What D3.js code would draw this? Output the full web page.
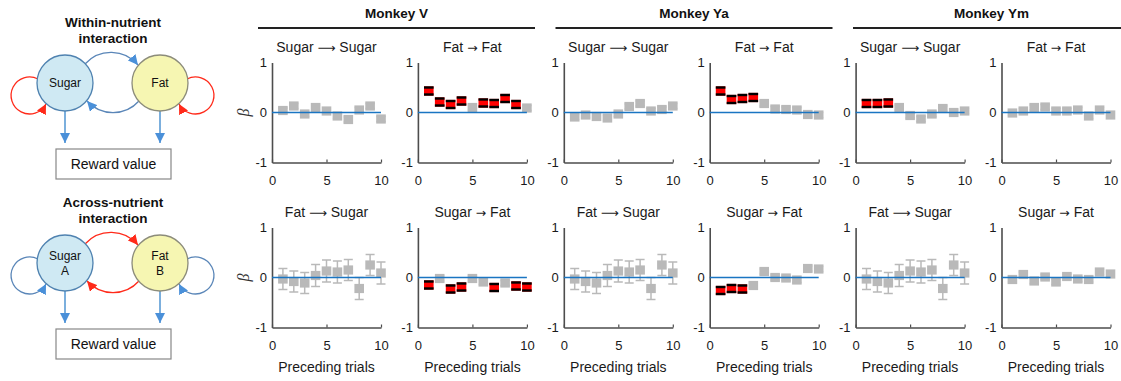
<!DOCTYPE html>
<html>
<head>
<meta charset="utf-8">
<script src="https://cdn.jsdelivr.net/npm/d3@7"></script>
<style>
  body { margin: 0; background: #fff; }
  svg { display: block; font-family: "Liberation Sans", Arial, sans-serif; }
</style>
</head>
<body>
<svg id="fig" width="1121" height="381"></svg>
<script>
// ---- data -------------------------------------------------------------
const monkeys = ["Monkey V", "Monkey Ya", "Monkey Ym"];
const lags = [1, 2, 3, 4, 5, 6, 7, 8, 9, 10];
const xTicks = [0, 5, 10];
const yTicks = [-1, 0, 1];
const topTitles = ["Sugar \u27F6 Sugar", "Fat \u2192 Fat"];
const bottomTitles = ["Fat \u27F6 Sugar", "Sugar \u2192 Fat"];
const xLabel = "Preceding trials";

// regression weights (beta) per lag, standard errors, significance (1 = p<0.05)
const betaV_SS  = [0.04, 0.13, -0.03, 0.10, 0.03, -0.07, -0.14, 0.05, 0.13, -0.13];
const errV_SS   = [0.05, 0.05, 0.05, 0.05, 0.05, 0.05, 0.05, 0.05, 0.05, 0.05];
const sigV_SS   = [0, 0, 0, 0, 0, 0, 0, 0, 0, 0];
const betaV_FF  = [0.43, 0.21, 0.16, 0.23, 0.10, 0.19, 0.18, 0.28, 0.16, 0.09];
const errV_FF   = [0.07, 0.07, 0.07, 0.07, 0.05, 0.07, 0.07, 0.07, 0.07, 0.05];
const sigV_FF   = [1, 1, 1, 1, 0, 1, 1, 1, 1, 0];
const betaV_FS  = [-0.03, -0.08, -0.11, 0.04, 0.13, 0.11, 0.15, -0.22, 0.25, 0.09];
const errV_FS   = [0.21, 0.21, 0.21, 0.22, 0.22, 0.22, 0.21, 0.22, 0.21, 0.22];
const sigV_FS   = [0, 0, 0, 0, 0, 0, 0, 0, 0, 0];
const betaV_SF  = [-0.15, -0.02, -0.23, -0.19, -0.02, -0.09, -0.20, -0.11, -0.17, -0.19];
const errV_SF   = [0.07, 0.05, 0.07, 0.07, 0.05, 0.05, 0.07, 0.05, 0.07, 0.07];
const sigV_SF   = [1, 0, 1, 1, 0, 0, 1, 0, 1, 1];

const betaYa_SS = [-0.09, -0.05, -0.08, -0.11, -0.03, 0.12, 0.18, 0.03, 0.06, 0.13];
const errYa_SS  = [0.05, 0.05, 0.05, 0.05, 0.05, 0.05, 0.05, 0.05, 0.05, 0.05];
const sigYa_SS  = [0, 0, 0, 0, 0, 0, 0, 0, 0, 0];
const betaYa_FF = [0.43, 0.26, 0.28, 0.30, 0.18, 0.07, 0.06, 0.05, -0.04, -0.05];
const errYa_FF  = [0.07, 0.07, 0.07, 0.07, 0.05, 0.05, 0.05, 0.05, 0.05, 0.05];
const sigYa_FF  = [1, 1, 1, 1, 0, 0, 0, 0, 0, 0];
const betaYa_FS = [-0.03, -0.08, -0.11, 0.04, 0.13, 0.11, 0.15, -0.22, 0.25, 0.09];
const errYa_FS  = [0.21, 0.21, 0.21, 0.22, 0.22, 0.22, 0.21, 0.22, 0.21, 0.22];
const sigYa_FS  = [0, 0, 0, 0, 0, 0, 0, 0, 0, 0];
const betaYa_SF = [-0.26, -0.22, -0.23, -0.16, 0.12, 0.00, -0.01, -0.05, 0.18, 0.17];
const errYa_SF  = [0.07, 0.07, 0.07, 0.05, 0.05, 0.05, 0.05, 0.05, 0.05, 0.05];
const sigYa_SF  = [1, 1, 1, 0, 0, 0, 0, 0, 0, 0];

const betaYm_SS = [0.18, 0.18, 0.19, 0.10, -0.06, -0.13, -0.03, 0.08, 0.00, 0.03];
const errYm_SS  = [0.07, 0.07, 0.07, 0.05, 0.05, 0.05, 0.05, 0.05, 0.05, 0.05];
const sigYm_SS  = [1, 1, 1, 0, 0, 0, 0, 0, 0, 0];
const betaYm_FF = [-0.01, 0.03, 0.10, 0.11, 0.03, 0.03, 0.05, -0.07, 0.05, -0.05];
const errYm_FF  = [0.05, 0.05, 0.05, 0.05, 0.05, 0.05, 0.05, 0.05, 0.05, 0.05];
const sigYm_FF  = [0, 0, 0, 0, 0, 0, 0, 0, 0, 0];
const betaYm_FS = [-0.03, -0.08, -0.11, 0.04, 0.13, 0.11, 0.15, -0.22, 0.25, 0.09];
const errYm_FS  = [0.21, 0.21, 0.21, 0.22, 0.22, 0.22, 0.21, 0.22, 0.21, 0.22];
const sigYm_FS  = [0, 0, 0, 0, 0, 0, 0, 0, 0, 0];
const betaYm_SF = [-0.04, 0.06, -0.07, 0.01, -0.09, 0.02, -0.03, -0.04, 0.11, 0.07];
const errYm_SF  = [0.05, 0.05, 0.05, 0.05, 0.05, 0.05, 0.05, 0.05, 0.05, 0.05];
const sigYm_SF  = [0, 0, 0, 0, 0, 0, 0, 0, 0, 0];

// ---- layout -----------------------------------------------------------
const svg = d3.select("#fig");
const plotW = 109, plotH = 100;
const colX = c => 272 + c * 145.9;
const rowY = [62.5, 227.5];

const panels = [
  { col: 0, row: 0, title: topTitles[0],    beta: betaV_SS,  err: errV_SS,  sig: sigV_SS },
  { col: 1, row: 0, title: topTitles[1],    beta: betaV_FF,  err: errV_FF,  sig: sigV_FF },
  { col: 2, row: 0, title: topTitles[0],    beta: betaYa_SS, err: errYa_SS, sig: sigYa_SS },
  { col: 3, row: 0, title: topTitles[1],    beta: betaYa_FF, err: errYa_FF, sig: sigYa_FF },
  { col: 4, row: 0, title: topTitles[0],    beta: betaYm_SS, err: errYm_SS, sig: sigYm_SS },
  { col: 5, row: 0, title: topTitles[1],    beta: betaYm_FF, err: errYm_FF, sig: sigYm_FF },
  { col: 0, row: 1, title: bottomTitles[0], beta: betaV_FS,  err: errV_FS,  sig: sigV_FS },
  { col: 1, row: 1, title: bottomTitles[1], beta: betaV_SF,  err: errV_SF,  sig: sigV_SF },
  { col: 2, row: 1, title: bottomTitles[0], beta: betaYa_FS, err: errYa_FS, sig: sigYa_FS },
  { col: 3, row: 1, title: bottomTitles[1], beta: betaYa_SF, err: errYa_SF, sig: sigYa_SF },
  { col: 4, row: 1, title: bottomTitles[0], beta: betaYm_FS, err: errYm_FS, sig: sigYm_FS },
  { col: 5, row: 1, title: bottomTitles[1], beta: betaYm_SF, err: errYm_SF, sig: sigYm_SF }
];

const x = d3.scaleLinear().domain([0, 10]).range([0, plotW]);
const y = d3.scaleLinear().domain([-1, 1]).range([plotH, 0]);

const axisColor = "#4d4d4d";
const grayMark = "#b9b9b9";
const zeroBlue = "#1a75c2";

// ---- monkey headers ---------------------------------------------------
monkeys.forEach((m, k) => {
  const x0 = 258 + k * 297.5, x1 = x0 + 277;
  svg.append("line").attr("x1", x0).attr("x2", x1).attr("y1", 28).attr("y2", 28)
    .attr("stroke", "#222").attr("stroke-width", 1.8);
  svg.append("text").attr("x", (x0 + x1) / 2).attr("y", 18)
    .attr("text-anchor", "middle").attr("font-size", 13.5).attr("font-weight", "bold")
    .attr("fill", "#111").text(m);
});

// panel title: words in Liberation Sans, arrow glyph in DejaVu Sans
function drawTitle(g, str) {
  const t = g.append("text").attr("x", plotW / 2).attr("y", -11)
    .attr("text-anchor", "middle").attr("font-size", 14).attr("fill", "#1a1a1a");
  const parts = str.split(/([\u2192\u27F6])/);
  parts.forEach(s => {
    const ts = t.append("tspan").text(s);
    if (s === "\u2192" || s === "\u27F6") ts.attr("font-family", "DejaVu Sans, sans-serif").attr("font-size", 12.5);
  });
}

// ---- panels -----------------------------------------------------------
panels.forEach(p => {
  const g = svg.append("g").attr("transform", `translate(${colX(p.col)},${rowY[p.row]})`);

  drawTitle(g, p.title);

  const ax = g.append("g").attr("transform", `translate(0,${plotH})`)
    .call(d3.axisBottom(x).tickValues(xTicks).tickSizeInner(-3).tickSizeOuter(0)
      .tickPadding(13).tickFormat(d => String(d)));
  const ay = g.append("g")
    .call(d3.axisLeft(y).tickValues(yTicks).tickSize(0).tickPadding(5)
      .tickFormat(d => String(d)));
  [ax, ay].forEach(a => {
    a.select(".domain").attr("stroke", axisColor).attr("stroke-width", 1.6);
    a.selectAll(".tick line").attr("stroke", axisColor).attr("stroke-width", 1.2);
    a.selectAll(".tick text").attr("fill", "#1a1a1a").attr("font-size", 13)
      .attr("font-family", "Liberation Sans, Arial, sans-serif");
  });

  if (p.col === 0) {
    g.append("text")
      .attr("transform", `translate(${-29},${y(0)}) rotate(-90)`)
      .attr("text-anchor", "middle").attr("dy", "0.35em")
      .attr("font-family", "Liberation Serif, serif").attr("font-style", "italic")
      .attr("font-size", 16).attr("fill", "#333").text("\u03B2");
  }

  if (p.row === 1) {
    g.append("text").attr("x", plotW / 2).attr("y", 372 - rowY[1])
      .attr("text-anchor", "middle").attr("font-size", 14).attr("fill", "#1a1a1a").text(xLabel);
  }

  const pts = lags.map((l, i) => ({ l, b: p.beta[i], e: p.err[i], s: p.sig[i] }));
  const cap = 4.5;

  // error bars for non-significant lags (behind markers)
  const eb = g.selectAll(".eb").data(pts.filter(d => !d.s)).enter().append("g")
    .attr("stroke", grayMark).attr("stroke-width", 1.5);
  eb.append("line").attr("x1", d => x(d.l)).attr("x2", d => x(d.l))
    .attr("y1", d => y(d.b + d.e)).attr("y2", d => y(d.b - d.e));
  eb.append("line").attr("x1", d => x(d.l) - cap).attr("x2", d => x(d.l) + cap)
    .attr("y1", d => y(d.b + d.e)).attr("y2", d => y(d.b + d.e));
  eb.append("line").attr("x1", d => x(d.l) - cap).attr("x2", d => x(d.l) + cap)
    .attr("y1", d => y(d.b - d.e)).attr("y2", d => y(d.b - d.e));

  // square markers
  g.selectAll(".mk").data(pts).enter().append("rect")
    .attr("x", d => x(d.l) - 4.8).attr("y", d => y(d.b) - 4.6)
    .attr("width", 9.6).attr("height", 9.2)
    .attr("fill", d => d.s ? "#ff0000" : grayMark);

  // black error caps on significant lags
  const sb = g.selectAll(".sb").data(pts.filter(d => d.s)).enter().append("g")
    .attr("stroke", "#000").attr("stroke-width", 2.4);
  sb.append("line").attr("x1", d => x(d.l) - 4.8).attr("x2", d => x(d.l) + 4.8)
    .attr("y1", d => y(d.b + d.e)).attr("y2", d => y(d.b + d.e));
  sb.append("line").attr("x1", d => x(d.l) - 4.8).attr("x2", d => x(d.l) + 4.8)
    .attr("y1", d => y(d.b - d.e)).attr("y2", d => y(d.b - d.e));

  // zero reference line
  g.append("line").attr("x1", x(0)).attr("x2", x(10)).attr("y1", y(0)).attr("y2", y(0))
    .attr("stroke", zeroBlue).attr("stroke-width", 1.6);
});

// ---- schematic diagrams ----------------------------------------------
const defs = svg.append("defs");
[["arrowBlue", "#4a90d9"], ["arrowRed", "#ff2a1a"]].forEach(([id, col]) => {
  defs.append("marker").attr("id", id).attr("viewBox", "0 0 10 10")
    .attr("refX", 10).attr("refY", 5).attr("markerWidth", 10).attr("markerHeight", 10)
    .attr("markerUnits", "userSpaceOnUse").attr("orient", "auto")
    .append("path").attr("d", "M0,0 L10,5 L0,10 Z").attr("fill", col);
});

const schemes = [
  { dy: 0,   title: ["Within-nutrient", "interaction"], sugar: ["Sugar"], fat: ["Fat"],
    self: "red", cross: "blue" },
  { dy: 180, title: ["Across-nutrient", "interaction"], sugar: ["Sugar", "A"], fat: ["Fat", "B"],
    self: "blue", cross: "red" }
];
const strokeOf = { blue: "#5a86b8", red: "#ff2a1a" };
const markerOf = { blue: "url(#arrowBlue)", red: "url(#arrowRed)" };

schemes.forEach(s => {
  const g = svg.append("g").attr("transform", `translate(0,${s.dy})`);
  s.title.forEach((t, i) => {
    g.append("text").attr("x", 113).attr("y", 27 + i * 16).attr("text-anchor", "middle")
      .attr("font-size", 13.5).attr("font-weight", "bold").attr("fill", "#111").text(t);
  });

  // self loops
  g.append("path").attr("d", "M38,79 A18.5,18.5 0 1,0 46,104")
    .attr("fill", "none").attr("stroke", strokeOf[s.self]).attr("stroke-width", 1.3)
    .attr("marker-end", markerOf[s.self]);
  g.append("path").attr("d", "M187,79 A18.5,18.5 0 1,1 179,104")
    .attr("fill", "none").attr("stroke", strokeOf[s.self]).attr("stroke-width", 1.3)
    .attr("marker-end", markerOf[s.self]);

  // cross arcs
  g.append("path").attr("d", "M85,64 A35,35 0 0,1 138,65")
    .attr("fill", "none").attr("stroke", strokeOf[s.cross]).attr("stroke-width", 1.3)
    .attr("marker-end", markerOf[s.cross]);
  g.append("path").attr("d", "M139,101 A35,35 0 0,1 87,101")
    .attr("fill", "none").attr("stroke", strokeOf[s.cross]).attr("stroke-width", 1.3)
    .attr("marker-end", markerOf[s.cross]);

  // output arrows
  [65, 160].forEach(cx => {
    g.append("line").attr("x1", cx).attr("x2", cx).attr("y1", 111).attr("y2", 143)
      .attr("stroke", "#5b9bd5").attr("stroke-width", 1.6).attr("marker-end", "url(#arrowBlue)");
  });

  // nodes
  g.append("circle").attr("cx", 65).attr("cy", 83).attr("r", 28)
    .attr("fill", "#cfe9f3").attr("stroke", "#4f82b0").attr("stroke-width", 1.3);
  g.append("circle").attr("cx", 160).attr("cy", 83).attr("r", 28)
    .attr("fill", "#f6f6b2").attr("stroke", "#8c8c7a").attr("stroke-width", 1.3);
  [[65, s.sugar], [160, s.fat]].forEach(([cx, lines]) => {
    lines.forEach((t, i) => {
      const yy = 83 + (i - (lines.length - 1) / 2) * 15;
      g.append("text").attr("x", cx).attr("y", yy).attr("dy", "0.35em")
        .attr("text-anchor", "middle").attr("font-size", 12).attr("fill", "#111").text(t);
    });
  });

  // reward box
  g.append("rect").attr("x", 56).attr("y", 149).attr("width", 115).attr("height", 30)
    .attr("fill", "#fff").attr("stroke", "#888").attr("stroke-width", 1.2);
  g.append("text").attr("x", 113.5).attr("y", 164).attr("dy", "0.35em")
    .attr("text-anchor", "middle").attr("font-size", 14).attr("fill", "#111").text("Reward value");
});
</script>
</body>
</html>
